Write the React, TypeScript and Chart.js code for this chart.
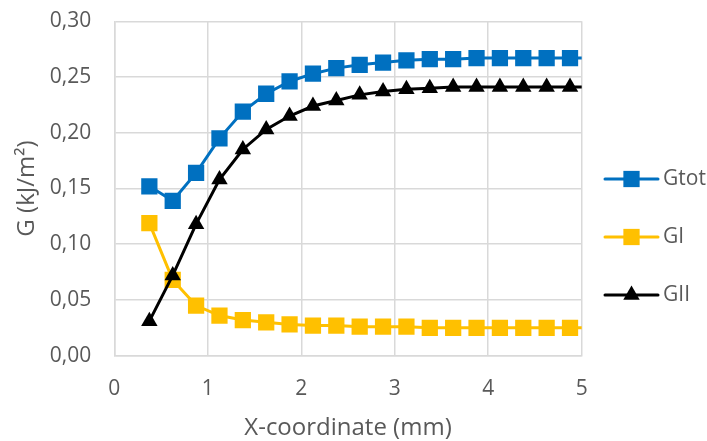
import React, { useEffect, useRef } from 'react';
import { Chart, registerables } from 'chart.js';

Chart.register(...registerables);

// ---- data ----
const xCoords = [0.375, 0.625, 0.875, 1.125, 1.375, 1.625, 1.875, 2.125, 2.375, 2.625, 2.875, 3.125, 3.375, 3.625, 3.875, 4.125, 4.375, 4.625, 4.875, 5.125];
const gTot = [0.152, 0.139, 0.164, 0.195, 0.219, 0.235, 0.246, 0.253, 0.258, 0.261, 0.263, 0.265, 0.266, 0.266, 0.267, 0.267, 0.267, 0.267, 0.267, 0.267];
const gI = [0.119, 0.068, 0.045, 0.036, 0.032, 0.030, 0.028, 0.027, 0.027, 0.026, 0.026, 0.026, 0.025, 0.025, 0.025, 0.025, 0.025, 0.025, 0.025, 0.025];
const gII = [0.031, 0.072, 0.118, 0.158, 0.185, 0.203, 0.215, 0.224, 0.229, 0.234, 0.237, 0.239, 0.240, 0.241, 0.241, 0.241, 0.241, 0.241, 0.241, 0.241];
const seriesNames = ['Gtot', 'GI', 'GII'];
const xTicks = [0, 1, 2, 3, 4, 5];
const yTicks = [0, 0.05, 0.1, 0.15, 0.2, 0.25, 0.3];
const xTitle = 'X-coordinate (mm)';
const yTitle = 'G (kJ/m²)';

// ---- styles ----
const FONT = "'Open Sans', sans-serif";
const TEXT = '#595959';
const GRID = '#d9d9d9';
const COLORS = ['#0070C0', '#FFC000', '#000000'];
const STYLES = ['rect', 'rect', 'triangle'];
const RADII = [11.5, 11.5, 9.5];

const W = 707;
const H = 441;
const AREA = { left: 114.3, right: 581.7, top: 21.3, bottom: 355.7 };
const LEGEND = { x0: 605, x1: 658, textX: 663, top: 179, gap: 58 };

function drawMarker(ctx: CanvasRenderingContext2D, style: string, x: number, y: number, r: number, color: string) {
  ctx.fillStyle = color;
  ctx.beginPath();
  if (style === 'rect') {
    const s = Math.SQRT1_2 * r;
    ctx.rect(x - s, y - s, 2 * s, 2 * s);
  } else {
    const h = Math.sin(Math.PI / 3) * r;
    ctx.moveTo(x, y - r);
    ctx.lineTo(x + h, y + r / 2);
    ctx.lineTo(x - h, y + r / 2);
    ctx.closePath();
  }
  ctx.fill();
}

const legendPlugin = {
  id: 'excelLegend',
  afterDraw(chart: any) {
    const ctx: CanvasRenderingContext2D = chart.ctx;
    ctx.save();
    chart.data.datasets.forEach((ds: any, i: number) => {
      const y = LEGEND.top + i * LEGEND.gap;
      ctx.strokeStyle = ds.borderColor;
      ctx.lineWidth = 3;
      ctx.lineCap = 'round';
      ctx.beginPath();
      ctx.moveTo(LEGEND.x0, y);
      ctx.lineTo(LEGEND.x1, y);
      ctx.stroke();
      drawMarker(ctx, STYLES[i], (LEGEND.x0 + LEGEND.x1) / 2, y, RADII[i], ds.borderColor);
      ctx.fillStyle = TEXT;
      ctx.font = `21px ${FONT}`;
      ctx.textAlign = 'left';
      ctx.textBaseline = 'middle';
      ctx.fillText(ds.label, LEGEND.textX, y);
    });
    ctx.restore();
  },
};

export default function App() {
  const ref = useRef<HTMLCanvasElement>(null);

  useEffect(() => {
    if (!ref.current) return;
    const series = [gTot, gI, gII];
    const chart = new Chart(ref.current, {
      type: 'line',
      data: {
        datasets: series.map((vals, i) => ({
          label: seriesNames[i],
          data: xCoords.map((x, j) => ({ x, y: vals[j] })),
          borderColor: COLORS[i],
          backgroundColor: COLORS[i],
          pointBackgroundColor: COLORS[i],
          pointBorderColor: COLORS[i],
          pointBorderWidth: 0,
          borderWidth: 3,
          pointStyle: STYLES[i] as any,
          pointRadius: RADII[i],
          pointHoverRadius: RADII[i],
          tension: 0,
          order: 2 - i,
          clip: 0,
        })),
      },
      options: {
        responsive: false,
        animation: false,
        devicePixelRatio: 1,
        layout: {
          padding: { left: 0, top: AREA.top, right: W - AREA.right, bottom: 0 },
        },
        plugins: {
          legend: { display: false },
          tooltip: { enabled: false },
        },
        scales: {
          x: {
            type: 'linear',
            min: 0,
            max: 5,
            afterBuildTicks: (scale: any) => {
              scale.ticks = xTicks.map((v) => ({ value: v }));
            },
            afterFit: (scale: any) => {
              scale.height = H - AREA.bottom;
              scale.paddingLeft = 0;
              scale.paddingRight = 0;
            },
            grid: { color: GRID, lineWidth: 1.5, drawTicks: false },
            border: { color: GRID, width: 1.5 },
            ticks: {
              color: TEXT,
              font: { family: FONT, size: 21 },
              padding: 21,
              maxRotation: 0,
              callback: (v: any) => String(v),
            },
            title: {
              display: true,
              text: xTitle,
              color: TEXT,
              font: { family: FONT, size: 24 },
              padding: { top: 0, bottom: -2 },
            },
          },
          y: {
            type: 'linear',
            min: 0,
            max: 0.3,
            afterBuildTicks: (scale: any) => {
              scale.ticks = yTicks.map((v) => ({ value: v }));
            },
            afterFit: (scale: any) => {
              scale.width = AREA.left;
              scale.paddingTop = 0;
              scale.paddingBottom = 0;
            },
            grid: { color: GRID, lineWidth: 1.5, drawTicks: false },
            border: { color: GRID, width: 1.5 },
            ticks: {
              color: TEXT,
              font: { family: FONT, size: 21 },
              padding: 23,
              callback: (v: any) => Number(v).toFixed(2).replace('.', ','),
            },
            title: {
              display: true,
              text: yTitle,
              color: TEXT,
              font: { family: FONT, size: 24 },
              padding: { top: 13, bottom: 0 },
            },
          },
        },
      },
      plugins: [legendPlugin],
    });
    return () => chart.destroy();
  }, []);

  return (
    <canvas
      ref={ref}
      width={W}
      height={H}
      style={{ position: 'fixed', left: 0, top: 0, width: W, height: H }}
    />
  );
}
